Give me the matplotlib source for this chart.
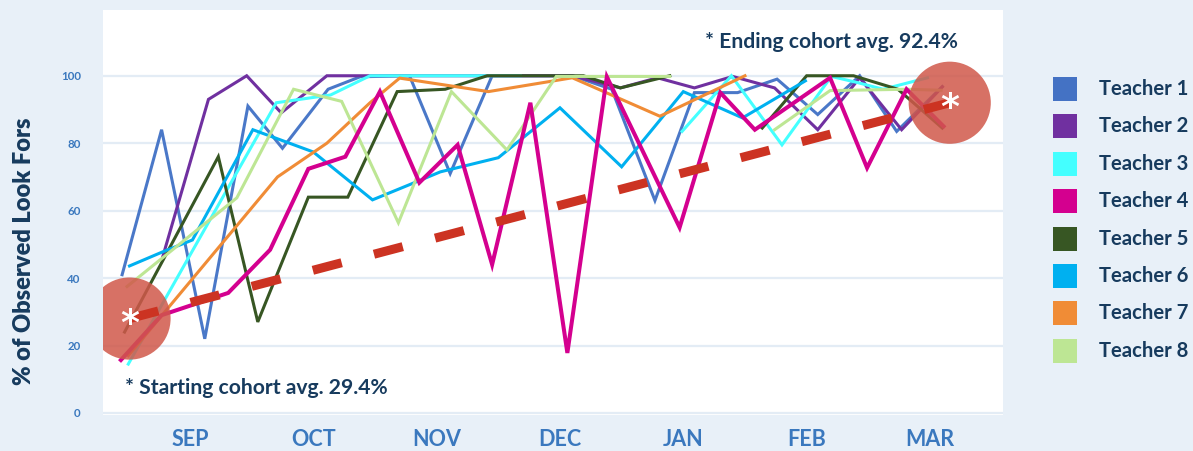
import numpy as np
import matplotlib
matplotlib.use("Agg")
import matplotlib.pyplot as plt
from matplotlib.patches import Rectangle

nan = np.nan

# x values are in "month" units: SEP = 0 ... MAR = 6
months = ["SEP", "OCT", "NOV", "DEC", "JAN", "FEB", "MAR"]
month_pos = [0, 1, 2, 3, 4, 5, 6]
yticks = [0, 20, 40, 60, 80, 100]

teachers = ["Teacher 1", "Teacher 2", "Teacher 3", "Teacher 4",
            "Teacher 5", "Teacher 6", "Teacher 7", "Teacher 8"]
colors = ["#4A78C8", "#7030A0", "#44FFFF", "#D4008F",
          "#375623", "#00B0F0", "#F08C36", "#BDE694"]

t1_x = [-0.55, -0.23, 0.12, 0.47, 0.75, 1.12, 1.38, 1.78, 2.11, 2.45, 3.10, 3.42, 3.77, 4.09, 4.44, 4.76, 5.09, 5.43, 5.73, 6.10]
t1_y = [41, 84, 22, 91, 78.5, 96, 99.7, 100, 71, 100, 100, 96, 63, 95, 95, 99, 88.5, 100, 83.5, 96.8]

t2_x = [-0.22, 0.15, 0.46, 0.74, 1.11, 3.10, 3.49, 3.79, 4.09, 4.40, 4.74, 5.09, 5.43, 5.77, 6.10]
t2_y = [46.4, 93, 100, 89, 100, 100, 96.4, 99.4, 96.4, 99.8, 96.4, 84, 99.4, 84, 96.7]

t3_x = [-0.50, 0.70, 1.14, 1.46, 2.11, 2.68, nan, 3.99, 4.39, 4.80, 5.20, 5.41, 5.62, 5.98]
t3_y = [14.5, 92, 94.3, 100, 100, 100, nan, 83.5, 100, 79.5, 99.8, 98, 96, 99.4]

t4_x = [-0.56, -0.23, 0.31, 0.65, 0.96, 1.26, 1.54, 1.86, 2.17, 2.45, 2.76, 3.06, 3.38, 3.97, 4.30, 4.58, 5.19, 5.49, 5.81, 6.11]
t4_y = [15.7, 29, 35.6, 48.4, 72.4, 76, 95.3, 68.3, 79.5, 44, 92, 17.8, 99.7, 55, 95, 84, 99.4, 72.7, 96, 85]

t5_x = [-0.53, 0.23, 0.55, 0.96, 1.28, 1.68, 2.07, 2.41, 3.19, 3.49, 3.89, nan, 4.64, 5.00, 5.38, 5.74, 6.10]
t5_y = [24, 76, 27, 64, 64, 95.3, 96, 100, 100, 96.4, 100, nan, 84.5, 100, 100, 96, 84.5]

t6_x = [-0.49, -0.22, 0.02, 0.51, 1.00, 1.48, 1.78, 2.03, 2.50, 3.00, 3.50, 4.00, 4.48, 4.99]
t6_y = [43.6, 47.8, 51.3, 84, 77.4, 63.2, 67.7, 71.5, 75.7, 90.5, 73, 95.3, 87.5, 98.5]

t7_x = [-0.50, 0.71, 1.11, 1.46, 1.70, 2.42, 3.10, 3.81, 4.50]
t7_y = [17, 70, 80, 92, 99.3, 95.3, 99.4, 88, 100]

t8_x = [-0.51, 0.38, 0.84, 1.23, 1.69, 2.12, 2.57, 2.97, 3.89, nan, 4.74, 5.19, 5.81, 6.09]
t8_y = [37.5, 63.8, 96, 92.4, 56.4, 95.3, 78, 99.8, 99.8, nan, 84, 95.6, 96, 95.7]

series_x = [t1_x, t2_x, t3_x, t4_x, t5_x, t6_x, t7_x, t8_x]
series_y = [t1_y, t2_y, t3_y, t4_y, t5_y, t6_y, t7_y, t8_y]

# cohort trend (start and end averages, marked by circles)
trend_x = [-0.49, 6.16]
trend_y = [28.0, 92.0]

start_label = "* Starting cohort avg. 29.4%"
end_label = "* Ending cohort avg. 92.4%"

BG = "#E8F0F8"
NAVY = "#173B5E"
BLUE = "#3A78BE"
FONT = "Lato"

W, H = 1193, 451
fig = plt.figure(figsize=(W / 100, H / 100), dpi=100, facecolor=BG)
ax = fig.add_axes([103 / W, 1 - 415 / H, 900 / W, 405 / H])
ax.set_facecolor("white")

for i, (xs, ys) in enumerate(zip(series_x, series_y)):
    lw = 2.9 if i == 3 else 2.2
    ax.plot(xs, ys, color=colors[i], lw=lw, zorder=3 + (1 if i == 3 else 0),
            solid_joinstyle="miter")

# circles
ax.scatter(trend_x, trend_y, s=3500, color="#D0584A", alpha=0.85,
           edgecolors="none", zorder=6)
# dashed trend
ax.plot(trend_x, trend_y, color="#CC3322", lw=6.5, dashes=(3.3, 3.7),
        dash_capstyle="butt", zorder=7)
for xx, yy in zip(trend_x, trend_y):
    ax.text(xx, yy - 1.5, "*", color="white", fontsize=26, fontweight="bold",
            ha="center", va="center", zorder=8, family="DejaVu Sans")

ax.set_xlim(-0.705, 6.592)
ax.set_ylim(-0.6, 119.5)
ax.set_yticks(yticks)
ax.set_yticklabels([str(v) for v in yticks], color=BLUE, fontsize=8.3,
                   fontweight="bold", family=FONT)
ax.set_xticks(month_pos)
ax.set_xticklabels(months, color=BLUE, fontsize=15.5, fontweight="bold",
                   family=FONT)
ax.tick_params(axis="y", length=0, pad=16)
ax.tick_params(axis="x", length=0, pad=10)
for s in ax.spines.values():
    s.set_visible(False)
ax.grid(axis="y", color="#E3ECF5", lw=1.6, zorder=0)
ax.set_axisbelow(True)

ax.set_ylabel("% of Observed Look Fors", color=NAVY, fontsize=17,
              fontweight="heavy", family=FONT)
ax.yaxis.set_label_coords(-0.075, 0.405)

fig.text(125 / W, 1 - 388 / H, start_label, color=NAVY, fontsize=15.2,
         fontweight="bold", family=FONT, ha="left", va="center")
fig.text(705 / W, 1 - 42 / H, end_label, color=NAVY, fontsize=15.2,
         fontweight="bold", family=FONT, ha="left", va="center")

# legend (manual)
for i, name in enumerate(teachers):
    yc = 89 + 37.4 * i
    fig.add_artist(Rectangle((1053 / W, 1 - (yc + 12) / H), 24 / W, 24 / H,
                             transform=fig.transFigure, color=colors[i] if i != 0 else "#4472C4",
                             lw=0))
    fig.text(1099 / W, 1 - yc / H, name, color=NAVY, fontsize=14.6,
             fontweight="bold", family=FONT, ha="left", va="center")

fig.savefig("out.png", dpi=100, facecolor=BG)
